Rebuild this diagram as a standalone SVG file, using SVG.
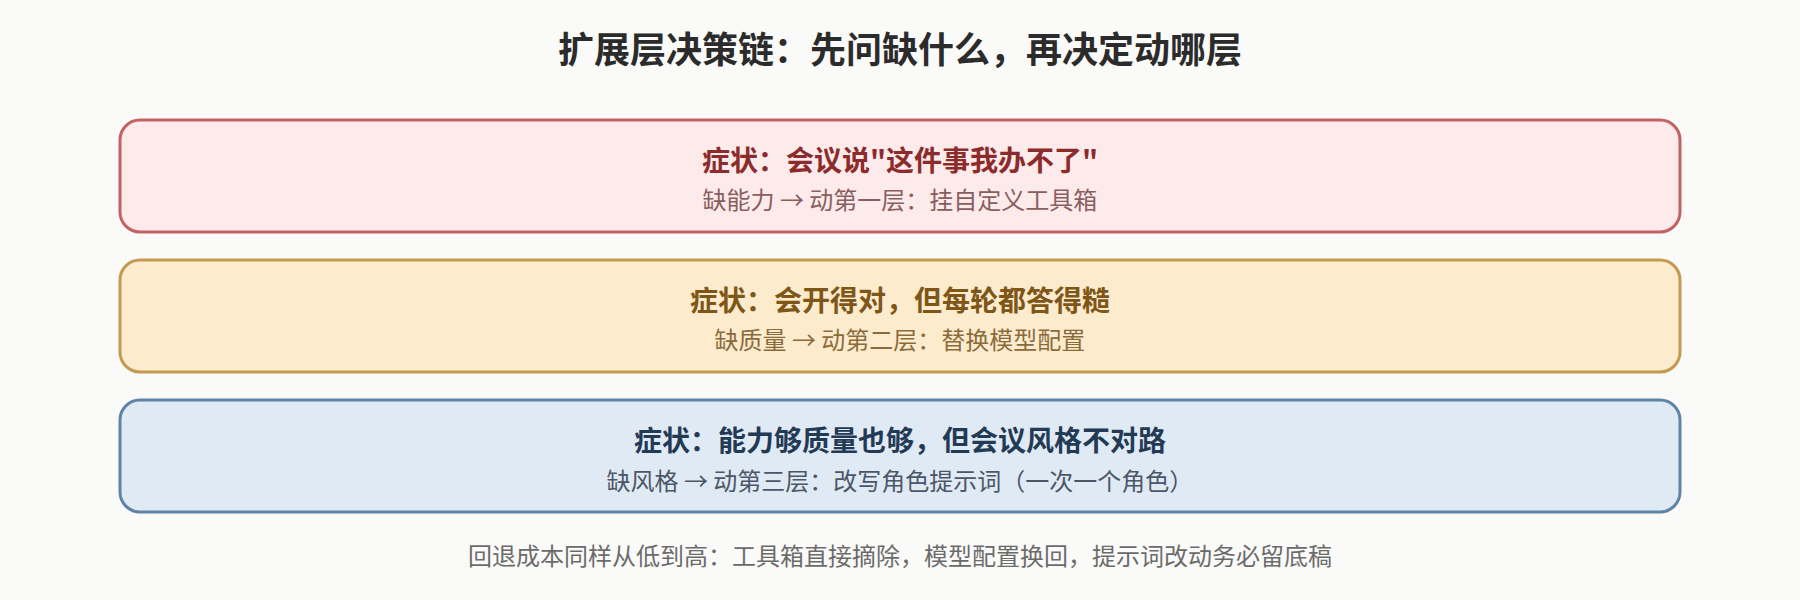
<svg xmlns="http://www.w3.org/2000/svg" width="1800" height="600" viewBox="0 0 1800 600">
  <style>
    .bg { fill: #fafaf8; }
    .title { font-family: "Noto Sans CJK SC", "Liberation Sans", sans-serif; font-size: 36px; font-weight: bold; fill: #2b2b2b; text-anchor: middle; }
    .box { stroke-width: 3; }
    .head { font-family: "Noto Sans CJK SC", "Liberation Sans", sans-serif; font-size: 28px; font-weight: bold; text-anchor: middle; }
    .sub { font-family: "Noto Sans CJK SC", "Liberation Sans", sans-serif; font-size: 24px; text-anchor: middle; }
    .foot { font-family: "Noto Sans CJK SC", "Liberation Sans", sans-serif; font-size: 24px; fill: #6b6b6b; text-anchor: middle; }
    .red .box { fill: #fdeaea; stroke: #c26262; }
    .red .head { fill: #8c2b2b; }
    .red .sub { fill: #8a5e5e; }
    .amber .box { fill: #fdebcd; stroke: #c49a52; }
    .amber .head { fill: #7d5618; }
    .amber .sub { fill: #8b6b3c; }
    .blue .box { fill: #e0eaf5; stroke: #5f84a8; }
    .blue .head { fill: #233a55; }
    .blue .sub { fill: #4b5766; }
  </style>
  <rect class="bg" x="0" y="0" width="1800" height="600"/>
  <text id="title" class="title" x="900" y="63">扩展层决策链：先问缺什么，再决定动哪层</text>
  <g id="node-capability" class="red">
    <rect class="box" x="120" y="120" width="1560" height="112" rx="20" ry="20"/>
    <text class="head" x="900" y="171">症状：会议说"这件事我办不了"</text>
    <text class="sub" x="900" y="209">缺能力 → 动第一层：挂自定义工具箱</text>
  </g>
  <g id="node-quality" class="amber">
    <rect class="box" x="120" y="260" width="1560" height="112" rx="20" ry="20"/>
    <text class="head" x="900" y="311">症状：会开得对，但每轮都答得糙</text>
    <text class="sub" x="900" y="349">缺质量 → 动第二层：替换模型配置</text>
  </g>
  <g id="node-style" class="blue">
    <rect class="box" x="120" y="400" width="1560" height="112" rx="20" ry="20"/>
    <text class="head" x="900" y="451">症状：能力够质量也够，但会议风格不对路</text>
    <text class="sub" x="900" y="490">缺风格 → 动第三层：改写角色提示词（一次一个角色）</text>
  </g>
  <g id="connectors"></g>
  <text id="footnote" class="foot" x="900" y="565">回退成本同样从低到高：工具箱直接摘除，模型配置换回，提示词改动务必留底稿</text>
</svg>
